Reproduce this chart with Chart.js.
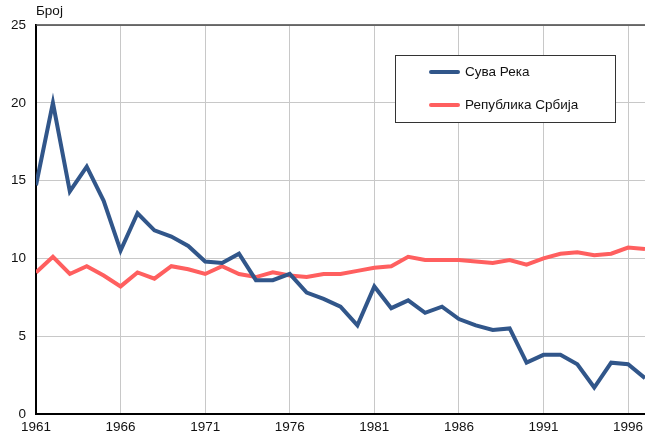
<!DOCTYPE html>
<html>
<head>
<meta charset="utf-8">
<title>Број</title>
<script src="https://cdn.jsdelivr.net/npm/chart.js"></script>
<style>
    body { margin: 0; background: #fff; }
    #wrap { width: 645px; height: 436px; }
</style>
</head>
<body>
<div id="wrap"><canvas id="c"></canvas></div>
<script>
    const years = [1961, 1962, 1963, 1964, 1965, 1966, 1967, 1968, 1969, 1970,
                   1971, 1972, 1973, 1974, 1975, 1976, 1977, 1978, 1979, 1980,
                   1981, 1982, 1983, 1984, 1985, 1986, 1987, 1988, 1989, 1990,
                   1991, 1992, 1993, 1994, 1995, 1996, 1997];
    const suvaReka = [14.7, 20.0, 14.3, 15.9, 13.7, 10.5, 12.9, 11.8, 11.4, 10.8,
                      9.8, 9.7, 10.3, 8.6, 8.6, 9.0, 7.8, 7.4, 6.9, 5.7,
                      8.2, 6.8, 7.3, 6.5, 6.9, 6.1, 5.7, 5.4, 5.5, 3.3,
                      3.8, 3.8, 3.2, 1.7, 3.3, 3.2, 2.3];
    const srbija = [9.1, 10.1, 9.0, 9.5, 8.9, 8.2, 9.1, 8.7, 9.5, 9.3,
                    9.0, 9.5, 9.0, 8.8, 9.1, 8.9, 8.8, 9.0, 9.0, 9.2,
                    9.4, 9.5, 10.1, 9.9, 9.9, 9.9, 9.8, 9.7, 9.9, 9.6,
                    10.0, 10.3, 10.4, 10.2, 10.3, 10.7, 10.6];
    const seriesNames = ['Сува Река', 'Република Србија'];
    const xTicks = [1961, 1966, 1971, 1976, 1981, 1986, 1991, 1996];
    const yTicks = [0, 5, 10, 15, 20, 25];

    const blue = '#31568a';
    const red = '#ff5f5f';
    const fontFamily = '"Liberation Sans", Arial, sans-serif';

    // y-axis title and the legend box inside the plot
    const extras = {
        id: 'extras',
        afterDraw(chart) {
            const ctx = chart.ctx;
            const a = chart.chartArea;
            ctx.save();
            ctx.strokeStyle = '#444';
            ctx.lineWidth = 1.5;
            ctx.beginPath();
            ctx.moveTo(a.left, a.top);
            ctx.lineTo(a.right, a.top);
            ctx.stroke();

            ctx.fillStyle = '#111';
            ctx.font = '13.5px ' + fontFamily;
            ctx.textAlign = 'left';
            ctx.textBaseline = 'alphabetic';
            ctx.fillText('Број', 36, 15);

            ctx.fillStyle = '#fff';
            ctx.fillRect(395.5, 55.5, 220, 67);
            ctx.strokeStyle = '#333';
            ctx.lineWidth = 1;
            ctx.strokeRect(395.5, 55.5, 220, 67);

            ctx.textBaseline = 'middle';
            chart.data.datasets.forEach((ds, i) => {
                const y = 72 + i * 33;
                ctx.strokeStyle = ds.borderColor;
                ctx.lineWidth = 4;
                ctx.lineCap = 'round';
                ctx.beginPath();
                ctx.moveTo(431, y);
                ctx.lineTo(458, y);
                ctx.stroke();
                ctx.fillStyle = '#111';
                ctx.fillText(ds.label, 465, y);
            });
            ctx.restore();
        }
    };

    new Chart(document.getElementById('c'), {
        type: 'line',
        data: {
            datasets: [
                { label: seriesNames[0], data: years.map((y, i) => ({ x: y, y: suvaReka[i] })),
                  borderColor: blue, borderWidth: 4, pointRadius: 0, tension: 0 },
                { label: seriesNames[1], data: years.map((y, i) => ({ x: y, y: srbija[i] })),
                  borderColor: red, borderWidth: 4, pointRadius: 0, tension: 0 }
            ]
        },
        options: {
            responsive: true,
            maintainAspectRatio: false,
            devicePixelRatio: 1,
            animation: false,
            layout: { padding: { top: 25, right: 0, left: 0, bottom: 0 } },
            plugins: {
                legend: { display: false },
                tooltip: { enabled: false }
            },
            scales: {
                x: {
                    type: 'linear',
                    min: 1961,
                    max: 1997,
                    afterBuildTicks: s => { s.ticks = xTicks.map(v => ({ value: v })); },
                    afterFit: s => { s.height = 22; s.paddingLeft = 0; s.paddingRight = 0; },
                    grid: { color: '#c8c8c8', drawTicks: false },
                    border: { color: '#000', width: 2 },
                    ticks: { padding: 5, color: '#111', maxRotation: 0, autoSkip: false,
                             font: { family: fontFamily, size: 13.5 },
                             callback: v => String(v) }
                },
                y: {
                    min: 0,
                    max: 25,
                    afterBuildTicks: s => { s.ticks = yTicks.map(v => ({ value: v })); },
                    afterFit: s => { s.width = 36; },
                    grid: { color: '#c8c8c8', drawTicks: false },
                    border: { color: '#000', width: 2 },
                    ticks: { padding: 10, color: '#111',
                             font: { family: fontFamily, size: 13.5 } }
                }
            }
        },
        plugins: [extras]
    });
</script>
</body>
</html>
